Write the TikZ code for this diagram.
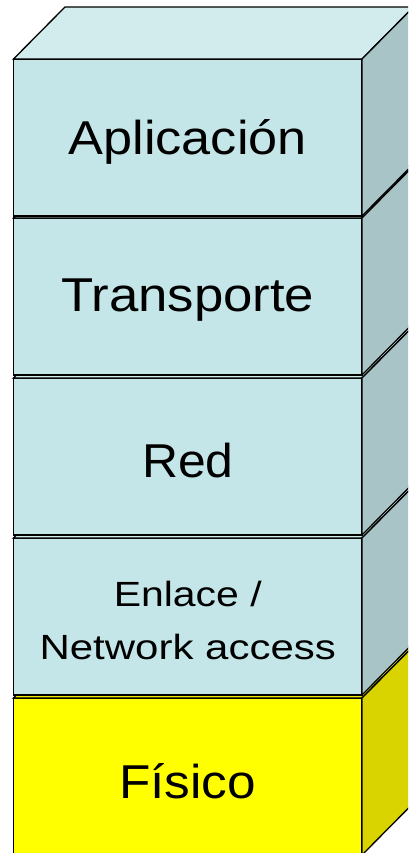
\documentclass[tikz,border=0pt]{standalone}
\usepackage{fontspec}
\setmainfont{Liberation Sans}
\definecolor{frontblue}{RGB}{197,230,232}
\definecolor{topblue}{RGB}{210,235,236}
\definecolor{sideblue}{RGB}{168,196,198}
\definecolor{frontyellow}{RGB}{255,255,0}
\definecolor{topyellow}{RGB}{240,236,0}
\definecolor{sideyellow}{RGB}{217,212,0}
\newcommand\mylayer[7]{%
  \node[front, fill=#3, anchor=north west] (#1) at (13.5,#2) {};
  \node[#7] (#1text) at (#1.center) {#6};
  \draw[edge, fill=#4] (#1.north west) -- ++(51.5,-52) -- ++(348.5,0) -- (#1.north east) -- cycle;
  \draw[edge, fill=#5] (#1.north east) -- ++(51.5,-52) -- ++(0,157) -- (#1.south east) -- cycle;
}
\begin{document}
\begin{tikzpicture}[x=1pt,y=-1pt,
  edge/.style={draw=black, line width=1.3pt, line join=miter},
  front/.style={draw=black, line width=1.3pt, minimum width=348.5pt, minimum height=157pt, inner sep=0pt, outer sep=0pt},
  big/.style={font=\fontsize{47.5}{53}\selectfont, inner sep=0pt, align=center, text=black, yshift=-4pt},
  small/.style={font=\fontsize{35}{53}\selectfont, inner sep=0pt, align=center, text=black, yshift=-4pt}]
\useasboundingbox (0,0) rectangle (408,853);
\clip (0,0) rectangle (408,853);
\mylayer{fis}{698}{frontyellow}{topyellow}{sideyellow}{\scalebox{1.08}[1]{Físico}}{big, yshift=-1pt}
\mylayer{enl}{538}{frontblue}{topblue}{sideblue}{\scalebox{1.17}[1]{Enlace /}\\ \scalebox{1.2}[1]{Network access}}{small}
\mylayer{red}{378}{frontblue}{topblue}{sideblue}{\scalebox{1.05}[1]{Red}}{big}
\mylayer{tra}{218}{frontblue}{topblue}{sideblue}{\scalebox{1.11}[1]{Transporte}}{big}
\mylayer{app}{59}{frontblue}{topblue}{sideblue}{\scalebox{1.1}[1]{Aplicación}}{big}
\end{tikzpicture}
\end{document}
